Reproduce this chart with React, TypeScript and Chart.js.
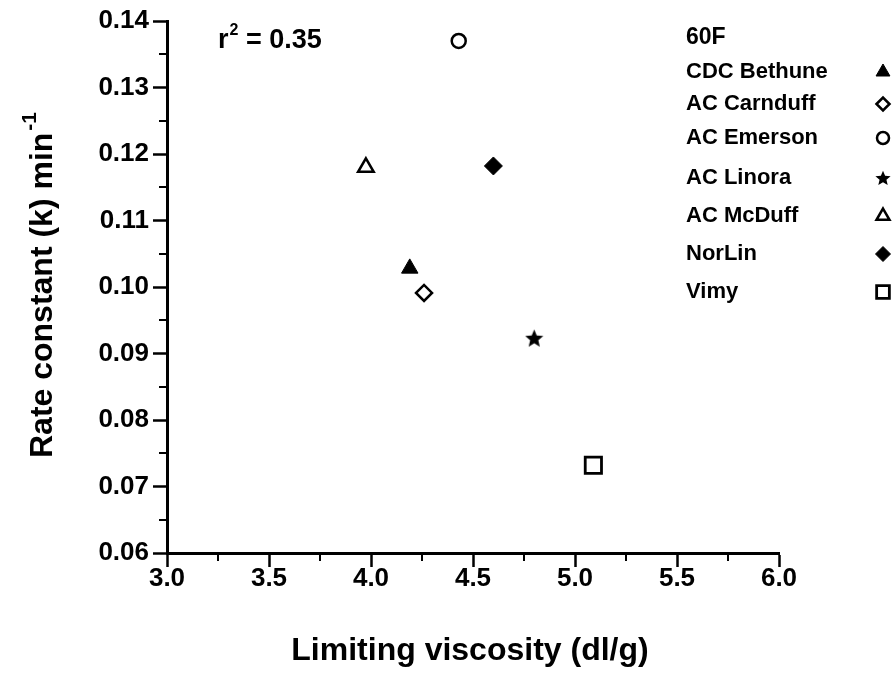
import React, { useEffect, useRef } from 'react';
import { Chart, registerables } from 'chart.js';
import { drawPoint } from 'chart.js/helpers';

Chart.register(...registerables);

// ---- data ----
const varieties = ['CDC Bethune', 'AC Carnduff', 'AC Emerson', 'AC Linora', 'AC McDuff', 'NorLin', 'Vimy'];
const viscosity = [4.19, 4.26, 4.43, 4.8, 3.975, 4.6, 5.09];
const rateConstant = [0.1028, 0.0991, 0.137, 0.0923, 0.118, 0.1182, 0.0732];
const xTickValues = [3.0, 3.5, 4.0, 4.5, 5.0, 5.5, 6.0];
const yTickValues = [0.06, 0.07, 0.08, 0.09, 0.1, 0.11, 0.12, 0.13, 0.14];
const legendTitle = '60F';
const r2Value = '0.35';
const xTitle = 'Limiting viscosity (dl/g)';
const yTitle = 'Rate constant (k) min';
const yTitleSup = '-1';

// ---- styles ----
const FONT = "'Liberation Sans', Arial, Helvetica, sans-serif";

function makeStar(size: number): HTMLCanvasElement {
  const c = document.createElement('canvas');
  c.width = size;
  c.height = size;
  const ctx = c.getContext('2d')!;
  const cx = size / 2;
  const cy = size / 2 + size * 0.04;
  const R = size / 2;
  const r = R * 0.45;
  ctx.beginPath();
  for (let i = 0; i < 10; i++) {
    const a = -Math.PI / 2 + (i * Math.PI) / 5;
    const rad = i % 2 === 0 ? R : r;
    ctx.lineTo(cx + rad * Math.cos(a), cy + rad * Math.sin(a));
  }
  ctx.closePath();
  ctx.fillStyle = '#000';
  ctx.fill();
  return c;
}

type MarkerStyle = { pointStyle: any; radius: number; fill: string; borderWidth: number; legendRadius: number; legendStyle?: any };

function markerStyles(): MarkerStyle[] {
  return [
    { pointStyle: 'triangle', radius: 9.5, fill: '#000', borderWidth: 1, legendRadius: 8 },
    { pointStyle: 'rectRot', radius: 8, fill: '#fff', borderWidth: 2.5, legendRadius: 6.5 },
    { pointStyle: 'circle', radius: 7, fill: '#fff', borderWidth: 2.5, legendRadius: 6 },
    { pointStyle: makeStar(19), radius: 9, fill: '#000', borderWidth: 0, legendRadius: 8, legendStyle: makeStar(16) },
    { pointStyle: 'triangle', radius: 9, fill: '#fff', borderWidth: 2.5, legendRadius: 7.5 },
    { pointStyle: 'rectRot', radius: 9, fill: '#000', borderWidth: 1, legendRadius: 7.5 },
    { pointStyle: 'rect', radius: 11.5, fill: '#fff', borderWidth: 2.8, legendRadius: 9 },
  ];
}

const legendTitleY = 38;
const legendRowsY = [72, 104, 138, 178, 216, 254, 292];

export default function App() {
  const ref = useRef<HTMLCanvasElement | null>(null);

  useEffect(() => {
    document.body.style.margin = '0';
    const canvas = ref.current!;
    const styles = markerStyles();

    const datasets = varieties.map((name, i) => ({
      label: name,
      data: [{ x: viscosity[i], y: rateConstant[i] }],
      pointStyle: styles[i].pointStyle,
      pointRadius: styles[i].radius,
      pointBackgroundColor: styles[i].fill,
      pointBorderColor: '#000',
      pointBorderWidth: styles[i].borderWidth,
      showLine: false,
    }));

    const decorations = {
      id: 'decorations',
      afterDraw(chart: any) {
        const ctx = chart.ctx as CanvasRenderingContext2D;
        const xs = chart.scales.x;
        const ys = chart.scales.y;
        const area = chart.chartArea;
        ctx.save();
        // minor ticks
        ctx.strokeStyle = '#000';
        ctx.lineWidth = 2;
        for (let i = 0; i < xTickValues.length - 1; i++) {
          const v = (xTickValues[i] + xTickValues[i + 1]) / 2;
          const px = Math.round(xs.getPixelForValue(v));
          ctx.beginPath();
          ctx.moveTo(px, area.bottom);
          ctx.lineTo(px, area.bottom + 8);
          ctx.stroke();
        }
        for (let i = 0; i < yTickValues.length - 1; i++) {
          const v = (yTickValues[i] + yTickValues[i + 1]) / 2;
          const py = Math.round(ys.getPixelForValue(v));
          ctx.beginPath();
          ctx.moveTo(area.left, py);
          ctx.lineTo(area.left - 8, py);
          ctx.stroke();
        }

        ctx.fillStyle = '#000';
        // x title
        ctx.font = `bold 32px ${FONT}`;
        ctx.textAlign = 'center';
        ctx.textBaseline = 'middle';
        ctx.fillText(xTitle, 470, 651);

        // y title (rotated) with superscript
        ctx.save();
        ctx.translate(40, (area.top + area.bottom) / 2 - 2);
        ctx.rotate(-Math.PI / 2);
        ctx.font = `bold 32px ${FONT}`;
        const w1 = ctx.measureText(yTitle).width;
        ctx.font = `bold 21px ${FONT}`;
        const w2 = ctx.measureText(yTitleSup).width;
        const start = -(w1 + w2 + 2) / 2;
        ctx.textAlign = 'left';
        ctx.textBaseline = 'alphabetic';
        ctx.font = `bold 32px ${FONT}`;
        ctx.fillText(yTitle, start, 12);
        ctx.font = `bold 21px ${FONT}`;
        ctx.fillText(yTitleSup, start + w1 + 2, -4);
        ctx.restore();

        // r^2 annotation
        ctx.textAlign = 'left';
        ctx.textBaseline = 'alphabetic';
        ctx.font = `bold 27px ${FONT}`;
        ctx.fillText('r', 218, 48);
        const rw = ctx.measureText('r').width;
        ctx.font = `bold 16px ${FONT}`;
        ctx.fillText('2', 218 + rw + 1, 35);
        const sw = ctx.measureText('2').width;
        ctx.font = `bold 27px ${FONT}`;
        ctx.fillText(' = ' + r2Value, 218 + rw + sw + 1, 48);

        // legend
        ctx.font = `bold 23px ${FONT}`;
        ctx.textBaseline = 'middle';
        ctx.fillText(legendTitle, 686, legendTitleY);
        varieties.forEach((name, i) => {
          const y = legendRowsY[i];
          ctx.fillStyle = '#000';
          ctx.font = `bold 22px ${FONT}`;
          ctx.fillText(name, 686, y);
          const st = styles[i];
          ctx.fillStyle = st.fill;
          ctx.strokeStyle = '#000';
          ctx.lineWidth = st.borderWidth;
          drawPoint(
            ctx,
            { pointStyle: st.legendStyle || st.pointStyle, radius: st.legendRadius, rotation: 0, borderWidth: st.borderWidth },
            883,
            y
          );
        });
        ctx.restore();
      },
    };

    const tickFont = { family: FONT, size: 26, weight: 'bold' as const };

    const chart = new Chart(canvas, {
      type: 'scatter',
      data: { datasets },
      options: {
        responsive: false,
        animation: false,
        layout: { padding: { top: 21, right: 116, left: 0, bottom: 0 } },
        plugins: { legend: { display: false }, tooltip: { enabled: false } },
        scales: {
          x: {
            type: 'linear',
            min: xTickValues[0],
            max: xTickValues[xTickValues.length - 1],
            afterBuildTicks: (axis: any) => {
              axis.ticks = xTickValues.map((v) => ({ value: v }));
            },
            ticks: {
              color: '#000',
              font: tickFont,
              padding: -4,
              maxRotation: 0,
              autoSkip: false,
              callback: (v: any) => Number(v).toFixed(1),
            },
            grid: { drawOnChartArea: false, tickLength: 14, tickWidth: 2.5, tickColor: '#000' },
            border: { display: true, width: 3, color: '#000' },
            afterFit: (axis: any) => {
              axis.height = 694 - 553;
            },
          },
          y: {
            type: 'linear',
            min: yTickValues[0],
            max: yTickValues[yTickValues.length - 1],
            afterBuildTicks: (axis: any) => {
              axis.ticks = yTickValues.map((v) => ({ value: v }));
            },
            ticks: {
              color: '#000',
              font: tickFont,
              padding: 4,
              autoSkip: false,
              callback: (v: any) => Number(v).toFixed(2),
            },
            grid: { drawOnChartArea: false, tickLength: 14, tickWidth: 2.5, tickColor: '#000' },
            border: { display: true, width: 3, color: '#000' },
            afterFit: (axis: any) => {
              axis.width = 167;
            },
          },
        },
      },
      plugins: [decorations],
    });

    return () => chart.destroy();
  }, []);

  return (
    <div style={{ width: 895, height: 694, background: '#fff' }}>
      <canvas ref={ref} width={895} height={694} style={{ display: 'block' }} />
    </div>
  );
}
